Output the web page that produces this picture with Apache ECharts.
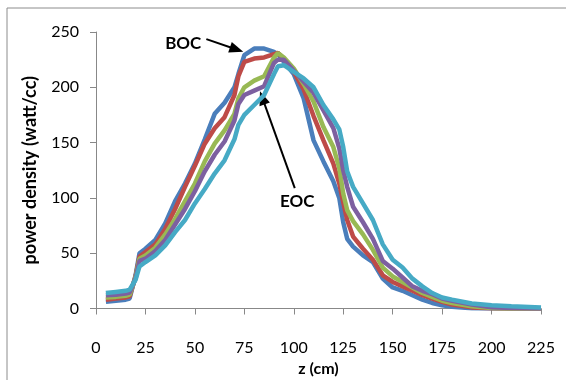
<!DOCTYPE html>
<html>
<head>
<meta charset="utf-8">
<script src="https://cdn.jsdelivr.net/npm/echarts@6/dist/echarts.min.js"></script>
<style>
html,body{margin:0;padding:0;background:#fff;}
#c{width:566px;height:380px;}
</style>
</head>
<body>
<div id="c"></div>
<script>
// z positions (cm)
var zValues = [5,10,15,17,20,22,25,30,35,40,45,50,55,60,65,70,72,75,80,85,90,92,95,100,105,110,115,120,123,125,127,130,135,140,145,150,155,160,165,170,175,180,190,200,210,225];
// power density (watt/cc), BOC -> EOC
var boc  = [6,7,8,9,30,50,54,62,77,97,113,131,153,176,186,200,212,229,235,235,232,230,223,212,190,152,133,115,100,78,63,56,48,42,27,19,16,12,8,5,3,1.5,0.3,0,0,0];
var s2   = [8,9,10,11,29,47,51,58,72,90,110,129,149,163,173,193,210,223,226,227,230,231,226,214,198,174,152,131,113,96,80,65,54,44,30,24,20,16,12,9,6,3.5,1,0.2,0,0];
var s3   = [10,10.5,11.5,12.5,28,45,48,55,67,81,97,113,133,149,161,176,190,200,206,210,227,231,227,217,203,187,164,146,127,104,89,79,67,53,37,29,24,19,14,10.5,7,5,2,0.5,0.1,0];
var s4   = [12,12.5,13.5,14.5,27,43,45,52,62,76,90,106,124,139,151,170,185,193,197,201,222,225,225,215,205,195,179,163,145,125,110,92,78,63,43,36,28,20,16,13,9,7,3.5,1.2,0.4,0];
var eoc  = [14,15,16,17,26,38,42,48,57,69,80,95,108,122,134,153,166,175,184,193,212,219,220,214,208,200,184,171,162,146,124,110,95,80,58,44,37,27,20,14,10,8,4.5,3,2,1];
var seriesNames = ['BOC','step 2','step 3','step 4','EOC'];
var seriesData = [boc, s2, s3, s4, eoc];
var colors = ['#4A7EBB','#BE4B48','#98B954','#7D60A0','#46AAC5'];
var xTicks = {min:0, max:225, interval:25};
var yTicks = {min:0, max:250, interval:50};
// annotation arrows in data units: [fromZ, fromV, toZ, toV]
var bocArrow = [55.8, 243.6, 71.1, 234.2];
var eocArrow = [100.5, 108.8, 84.1, 190.5];
var bocLabel = [44.1, 240];
var eocLabel = [101.8, 96.7];

var series = seriesData.map(function(vals, i){
  return {
    name: seriesNames[i],
    type: 'line',
    data: zValues.map(function(z, j){ return [z, vals[j]]; }),
    showSymbol: false,
    symbol: 'none',
    lineStyle: {width: 4.5, color: colors[i]},
    itemStyle: {color: colors[i]},
    z: 2 + i
  };
});

var labelStyle = {show:true, position:'inside', formatter:'{b}', color:'#000', fontFamily:'Lato', fontWeight:'bold', fontSize:17};
series.push({
  type: 'line',
  data: [],
  z: 10,
  markLine: {
    silent: true,
    animation: false,
    symbol: ['none','triangle'],
    symbolSize: [11, 14],
    label: {show:false},
    lineStyle: {color:'#000', width:2, type:'solid'},
    data: [
      [{coord:[bocArrow[0], bocArrow[1]]},{coord:[bocArrow[2], bocArrow[3]]}],
      [{coord:[eocArrow[0], eocArrow[1]]},{coord:[eocArrow[2], eocArrow[3]]}]
    ]
  },
  markPoint: {
    silent: true,
    animation: false,
    symbol: 'circle',
    symbolSize: 1,
    itemStyle: {color:'rgba(0,0,0,0)'},
    label: labelStyle,
    data: [
      {name:'BOC', coord: bocLabel},
      {name:'EOC', coord: eocLabel}
    ]
  }
});

var chart = echarts.init(document.getElementById('c'));
chart.setOption({
  animation: false,
  backgroundColor: '#fff',
  graphic: [{
    type: 'rect',
    shape: {x: 7, y: 8, width: 600, height: 420},
    style: {fill: 'none', stroke: '#8c8c8c', lineWidth: 1}
  }],
  grid: {left: 96, right: 25, top: 32, bottom: 71.5, containLabel: false, outerBoundsMode: 'none'},
  xAxis: {
    type: 'value',
    min: xTicks.min, max: xTicks.max, interval: xTicks.interval,
    name: 'z (cm)',
    nameLocation: 'middle',
    nameGap: 52,
    nameTextStyle: {fontFamily:'Lato', fontWeight:'bold', fontSize:16, color:'#000'},
    axisLine: {lineStyle: {color:'#888', width:1}},
    axisTick: {show:true, length:6, lineStyle:{color:'#888'}},
    axisLabel: {margin: 31, fontFamily:'Lato', fontSize:16, color:'#000'},
    splitLine: {show:false}
  },
  yAxis: {
    type: 'value',
    min: yTicks.min, max: yTicks.max, interval: yTicks.interval,
    name: 'power density (watt/cc)',
    nameLocation: 'middle',
    nameGap: 57,
    nameTextStyle: {fontFamily:'Lato', fontWeight:'bold', fontSize:18, color:'#000'},
    axisLine: {show:true, lineStyle: {color:'#888', width:1}},
    axisTick: {show:true, length:6, lineStyle:{color:'#888'}},
    axisLabel: {margin: 17, fontFamily:'Lato', fontSize:16, color:'#000'},
    splitLine: {show:false}
  },
  series: series
});
</script>
</body>
</html>
